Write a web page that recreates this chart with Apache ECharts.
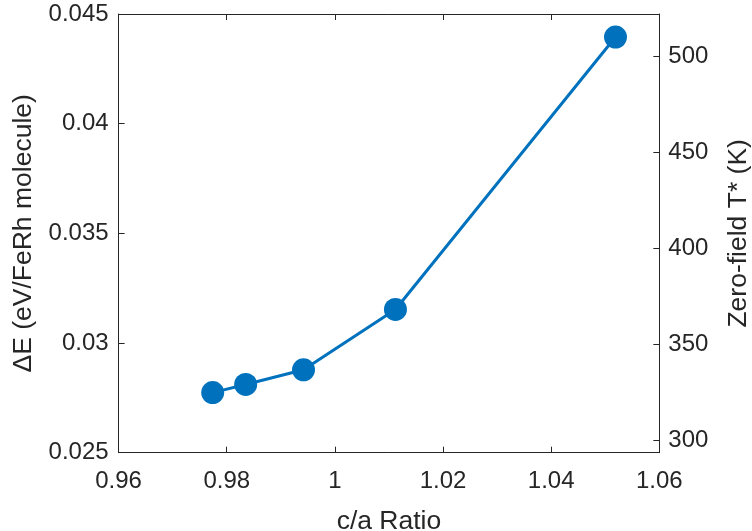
<!DOCTYPE html>
<html>
<head>
<meta charset="utf-8">
<script src="https://cdn.jsdelivr.net/npm/echarts@6/dist/echarts.min.js"></script>
<style>
  html, body { margin: 0; padding: 0; background: #fff; }
  #chart { width: 752px; height: 531px; }
</style>
</head>
<body>
<div id="chart"></div>
<script>
// c/a ratio vs. energy difference per FeRh molecule
const caRatio = [0.9774, 0.9835, 0.9942, 1.0112, 1.0519];
const deltaE = [0.02774, 0.02811, 0.02878, 0.03153, 0.04395];

// right-hand temperature scale (K)
const tempTicks = [300, 350, 400, 450, 500];
const tempMin = 293.4;
const tempMax = 522.3;

const FONT = '"Liberation Sans", Arial, Helvetica, sans-serif';
const INK = '#262626';
const BLUE = '#0072BD';
const TICK_FS = 24;
const NAME_FS = 26.5;

const chart = echarts.init(document.getElementById('chart'), null, { renderer: 'canvas' });

const axisLine = { show: true, onZero: false, lineStyle: { color: INK, width: 1 } };
const tick = { show: true, inside: true, length: 6, lineStyle: { color: INK, width: 1 } };

chart.setOption({
  animation: false,
  backgroundColor: '#fff',
  grid: {
    left: 118.6, right: 92.7, top: 14, bottom: 78.3,
    containLabel: false, outerBoundsMode: 'none'
  },
  xAxis: [
    {
      type: 'value', position: 'bottom',
      min: 0.96, max: 1.06, interval: 0.02,
      name: 'c/a Ratio', nameLocation: 'middle', nameGap: 55,
      nameTextStyle: { color: INK, fontSize: NAME_FS, fontFamily: FONT },
      axisLine, axisTick: tick,
      axisLabel: { color: INK, fontSize: TICK_FS, fontFamily: FONT, margin: 17 },
      splitLine: { show: false }
    },
    {
      type: 'value', position: 'top',
      min: 0.96, max: 1.06, interval: 0.02,
      axisLine, axisTick: tick,
      axisLabel: { show: false },
      splitLine: { show: false }
    }
  ],
  yAxis: [
    {
      type: 'value', position: 'left',
      min: 0.025, max: 0.045, interval: 0.005,
      name: 'ΔE (eV/FeRh molecule)', nameLocation: 'middle', nameGap: 76,
      nameTextStyle: { color: INK, fontSize: NAME_FS, fontFamily: FONT },
      axisLine, axisTick: tick,
      axisLabel: { color: INK, fontSize: TICK_FS, fontFamily: FONT, margin: 10 },
      splitLine: { show: false }
    },
    {
      type: 'value', position: 'right',
      min: tempMin, max: tempMax,
      name: 'Zero-field T* (K)', nameLocation: 'middle', nameGap: 66,
      nameRotate: 90,
      nameTextStyle: { color: INK, fontSize: NAME_FS, fontFamily: FONT },
      axisLine,
      axisTick: Object.assign({}, tick, { customValues: tempTicks }),
      axisLabel: { color: INK, fontSize: TICK_FS, fontFamily: FONT, margin: 9, customValues: tempTicks },
      splitLine: { show: false }
    }
  ],
  series: [
    {
      type: 'line',
      xAxisIndex: 0, yAxisIndex: 0,
      data: caRatio.map((x, i) => [x, deltaE[i]]),
      symbol: 'circle', symbolSize: 23,
      itemStyle: { color: BLUE },
      lineStyle: { color: BLUE, width: 3 }
    }
  ]
});
</script>
</body>
</html>
